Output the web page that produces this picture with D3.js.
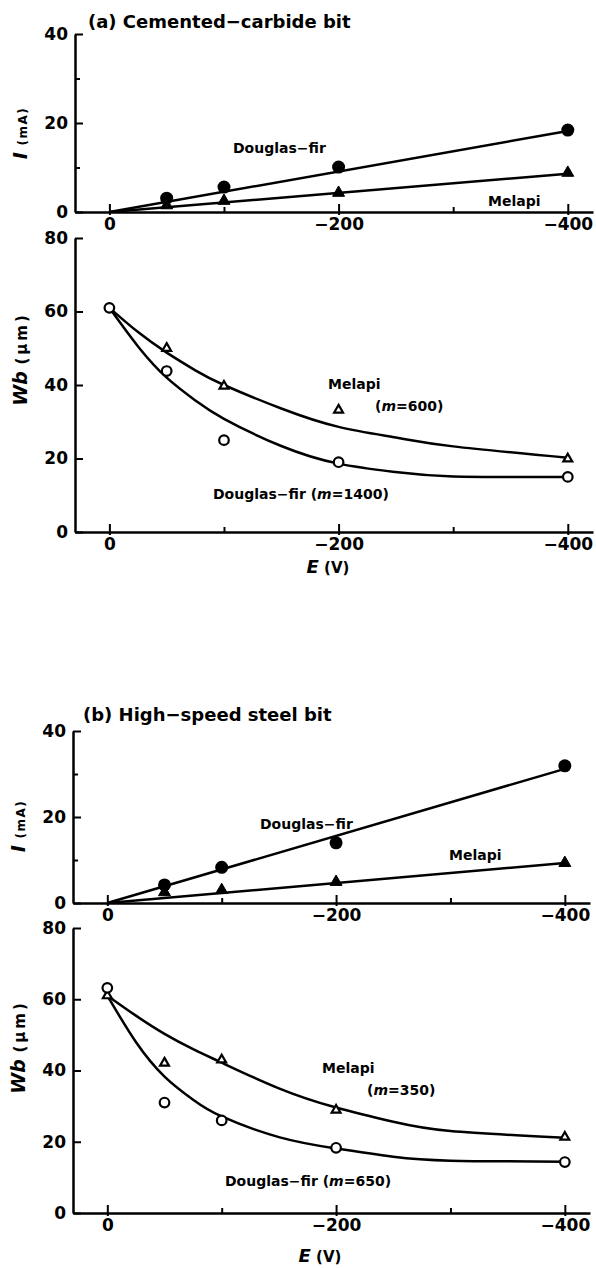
<!DOCTYPE html>
<html lang="en">
<head>
    <meta charset="UTF-8">
    <title>Current and wear vs applied voltage</title>
    <script src="https://d3js.org/d3.v7.min.js"></script>
    <style>
        body { margin: 0; background: #fff; }
        svg { display: block; }
        text { font-family: "DejaVu Sans", sans-serif; font-weight: bold; fill: #000; }
    </style>
</head>
<body>
<script>
    // applied voltage E (V)
    const pointE = [-50, -100, -200, -400];
    const wearE = [0, -50, -100, -200, -400];
    const fitE = [0, -400];
    const curveE = [0, -25, -50, -75, -100, -150, -200, -250, -300, -400];
    const majorE = [0, -200, -400];
    const minorE = [-100, -300];

    // (a) cemented-carbide bit, current I (mA)
    const iDouglasA = [3.1, 5.6, 10.1, 18.4];
    const iMelapiA = [1.5, 2.5, 4.3, 8.8];
    const iFitDouglasA = [0, 18.2];
    const iFitMelapiA = [0, 8.6];
    // (a) wear Wb (um), measured points and fitted curves
    const wbDouglasA = [61, 43.8, 25, 19, 15];
    const wbMelapiA = [null, 50, 39.7, 33.2, 19.9];
    const curveDouglasA = [61, 50.5, 42, 35.8, 30.8, 23.4, 18.6, 16.3, 15.1, 15];
    const curveMelapiA = [61, 54.4, 48.8, 44, 40, 33.6, 28.6, 25.7, 23.3, 20.2];

    // (b) high-speed steel bit
    const iDouglasB = [4.2, 8.3, 14, 31.9];
    const iMelapiB = [2.5, 3.0, 4.9, 9.3];
    const iFitDouglasB = [0, 31.2];
    const iFitMelapiB = [0, 9.3];
    const wbDouglasB = [63.2, 31, 26, 18.3, 14.3];
    const wbMelapiB = [61, 42.1, 43, 28.9, 21.3];
    const curveDouglasB = [61, 48, 38.3, 31.8, 27.1, 21.3, 18.1, 15.8, 14.7, 14.4];
    const curveMelapiB = [61, 55.4, 50.3, 46, 42.2, 35, 29.6, 25.6, 23, 21.1];

    const iTicks = [0, 20, 40], iMinor = [10, 30];
    const wbTicks = [0, 20, 40, 60, 80];

    const svg = d3.select("body").append("svg")
        .attr("width", 596).attr("height", 1268);

    function axes(x, y, yTicks, yMinor) {
        const [y0] = y.range();
        const gx = svg.append("g")
            .attr("transform", `translate(0,${y0})`)
            .call(d3.axisBottom(x).tickValues(majorE).tickSizeInner(-8).tickSizeOuter(0).tickPadding(6));
        gx.selectAll(".tick line").attr("y1", 3);
        svg.append("g")
            .attr("transform", `translate(0,${y0})`)
            .call(d3.axisBottom(x).tickValues(minorE).tickSizeInner(-5).tickSizeOuter(0).tickFormat(""))
            .select(".domain").remove();
        svg.append("g")
            .attr("transform", `translate(${x.range()[0]},0)`)
            .call(d3.axisLeft(y).tickValues(yTicks).tickSizeInner(-8).tickSizeOuter(0).tickPadding(7));
        if (yMinor) {
            svg.append("g")
                .attr("transform", `translate(${x.range()[0]},0)`)
                .call(d3.axisLeft(y).tickValues(yMinor).tickSizeInner(-5).tickSizeOuter(0).tickFormat(""))
                .select(".domain").remove();
        }
        svg.selectAll(".domain").attr("stroke-width", 2.5);
        svg.selectAll(".tick line").attr("stroke-width", 2);
        svg.selectAll(".tick text")
            .attr("font-family", "DejaVu Sans").attr("font-weight", "bold").attr("font-size", 17);
    }

    function lineOf(x, y, xs, ys, curve) {
        const pts = xs.map((e, i) => [e, ys[i]]).filter(d => d[1] != null);
        svg.append("path")
            .attr("d", d3.line().x(d => x(d[0])).y(d => y(d[1])).curve(curve || d3.curveLinear)(pts))
            .attr("fill", "none").attr("stroke", "#000").attr("stroke-width", 2.5);
    }

    function marks(x, y, xs, ys, kind) {
        const pts = xs.map((e, i) => [e, ys[i]]).filter(d => d[1] != null);
        const g = svg.append("g");
        if (kind === "dot") {
            g.selectAll("circle").data(pts).join("circle")
                .attr("cx", d => x(d[0])).attr("cy", d => y(d[1])).attr("r", 6.5).attr("fill", "#000");
        } else if (kind === "ring") {
            g.selectAll("circle").data(pts).join("circle")
                .attr("cx", d => x(d[0])).attr("cy", d => y(d[1])).attr("r", 4.8)
                .attr("fill", "#fff").attr("stroke", "#000").attr("stroke-width", 2.2);
        } else {
            const filled = kind === "tri";
            g.selectAll("path").data(pts).join("path")
                .attr("d", d3.symbol(d3.symbolTriangle, filled ? 62 : 34)())
                .attr("transform", d => `translate(${x(d[0])},${y(d[1])})`)
                .attr("fill", filled ? "#000" : "#fff")
                .attr("stroke", "#000").attr("stroke-width", filled ? 1 : 2.2);
        }
    }

    function label(x, y, parts, size, anchor) {
        const t = svg.append("text").attr("x", x).attr("y", y)
            .attr("font-size", size).attr("text-anchor", anchor || "start");
        parts.forEach(p => {
            const s = t.append("tspan").text(p.t);
            if (p.i) s.attr("font-style", "italic");
            if (p.s) s.attr("font-size", p.s);
        });
        return t;
    }

    function yTitle(cx, cy, main, unit, unitSize, spacing) {
        const t = svg.append("text")
            .attr("transform", `translate(${cx},${cy}) rotate(-90)`)
            .attr("text-anchor", "middle").attr("font-size", 19);
        t.append("tspan").attr("font-style", "italic").text(main);
        t.append("tspan").attr("font-size", unitSize).attr("letter-spacing", spacing).text(unit);
    }

    function drawSet(cfg) {
        const x = d3.scaleLinear().domain([30, -422]).range([cfg.left, cfg.right]);
        const yI = d3.scaleLinear().domain([0, 40]).range(cfg.iRange);
        const yW = d3.scaleLinear().domain([0, 80]).range(cfg.wRange);

        axes(x, yI, iTicks, iMinor);
        axes(x, yW, wbTicks, null);

        // current panel
        lineOf(x, yI, fitE, cfg.iFitD);
        lineOf(x, yI, fitE, cfg.iFitM);
        marks(x, yI, pointE, cfg.iM, "tri");
        marks(x, yI, pointE, cfg.iD, "dot");

        // wear panel
        lineOf(x, yW, curveE, cfg.cD, d3.curveNatural);
        lineOf(x, yW, curveE, cfg.cM, d3.curveNatural);
        marks(x, yW, wearE, cfg.wM, "open");
        marks(x, yW, wearE, cfg.wD, "ring");

        label(cfg.titleX, cfg.titleY, [{t: cfg.title}], 18);
        yTitle(cfg.left - 48, cfg.iMid, "I  ", "(mA)", 12, 1.5);
        yTitle(cfg.left - 48, cfg.wMid, "Wb ", "(μm)", 15, 3);
        label(cfg.eX, cfg.eY, [{t: "E", i: true, s: 18}, {t: " (V)", s: 15}], 15, "middle");
        cfg.texts.forEach(d => label(d[0], d[1], d[2], 14));
    }

    drawSet({
        left: 75, right: 593,
        iRange: [212, 34], wRange: [532, 238],
        iD: iDouglasA, iM: iMelapiA, iFitD: iFitDouglasA, iFitM: iFitMelapiA,
        wD: wbDouglasA, wM: wbMelapiA, cD: curveDouglasA, cM: curveMelapiA,
        title: "(a) Cemented−carbide bit", titleX: 88, titleY: 28,
        iMid: 133, wMid: 359, eX: 328, eY: 573,
        texts: [
            [233, 153, [{t: "Douglas−fir"}]],
            [488, 206, [{t: "Melapi"}]],
            [328, 389, [{t: "Melapi"}]],
            [375, 411, [{t: "("}, {t: "m", i: true}, {t: "=600)"}]],
            [213, 499, [{t: "Douglas−fir ("}, {t: "m", i: true}, {t: "=1400)"}]]
        ]
    });

    drawSet({
        left: 73, right: 590,
        iRange: [903, 731], wRange: [1213, 928],
        iD: iDouglasB, iM: iMelapiB, iFitD: iFitDouglasB, iFitM: iFitMelapiB,
        wD: wbDouglasB, wM: wbMelapiB, cD: curveDouglasB, cM: curveMelapiB,
        title: "(b) High−speed steel bit", titleX: 83, titleY: 721,
        iMid: 826, wMid: 1047, eX: 320, eY: 1262,
        texts: [
            [260, 829, [{t: "Douglas−fir"}]],
            [449, 860, [{t: "Melapi"}]],
            [322, 1073, [{t: "Melapi"}]],
            [367, 1095, [{t: "("}, {t: "m", i: true}, {t: "=350)"}]],
            [225, 1186, [{t: "Douglas−fir ("}, {t: "m", i: true}, {t: "=650)"}]]
        ]
    });
</script>
</body>
</html>
